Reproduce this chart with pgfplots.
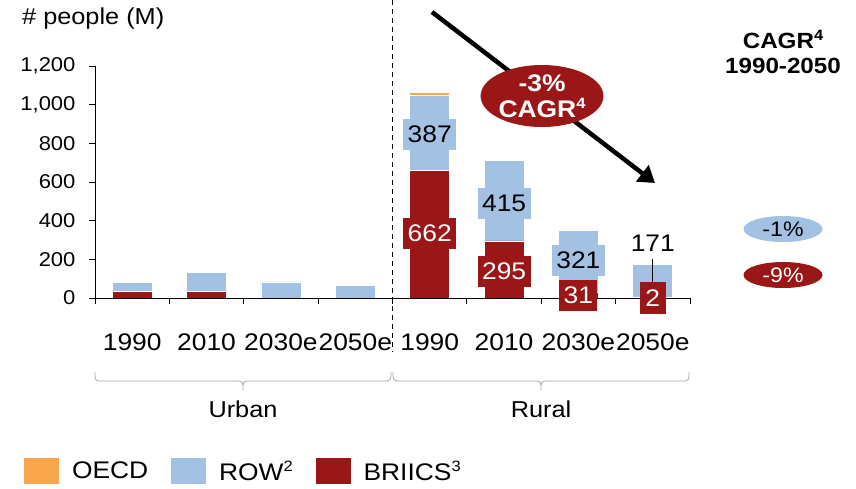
\documentclass[border=0pt]{standalone}
\usepackage{fontspec}
\setmainfont{Liberation Sans}[FakeStretch=1.1]
\usepackage{pgfplots}
\pgfplotsset{compat=1.18}
\usetikzlibrary{arrows.meta, shapes.geometric}
\definecolor{oecd}{HTML}{F8A54B}
\definecolor{row}{HTML}{A3C1E2}
\definecolor{briics}{HTML}{9B1717}
\definecolor{brk}{HTML}{A6A6A6}
\newcommand{\fs}[1]{\fontsize{#1}{#1}\selectfont}
\newcommand{\fn}[1]{\raisebox{0.7ex}{\fontsize{15}{15}\selectfont #1}}

\begin{document}
\begin{tikzpicture}
\path[use as bounding box] (0,0) rectangle (856pt,-488pt);

\begin{axis}[
  at={(95pt,-298pt)}, anchor=south west,
  scale only axis, width=595pt, height=232pt,
  xmin=-0.5, xmax=7.5, ymin=0, ymax=1200,
  ybar stacked, bar width=40pt,
  axis x line=bottom, axis y line=left,
  axis line style={-, line width=1pt},
  axis on top,
  tick align=outside,
  ytick={0,200,...,1200},
  major tick length=6pt,
  minor tick length=6pt,
  tick style={black, line width=0.8pt},
  xtick={0,...,7},
  xticklabels={1990,2010,2030e,2050e,1990,2010,2030e,2050e},
  major x tick style={draw=none},
  minor xtick={-0.5,0.5,...,7.5},
  xticklabel style={font=\fs{24}, yshift=-26pt},
  yticklabel style={font=\fs{20}, xshift=-10pt},
  /pgf/number format/.cd, 1000 sep={,}, assume math mode=true,
  /pgfplots/.cd,
  reverse legend,
  legend columns=3,
  legend style={at={(-0.121,-0.746)}, anchor=west, draw=none, fill=none,
    font=\fs{24}, inner sep=0pt,
    /tikz/every odd column/.append style={column sep=10pt},
    /tikz/every even column/.append style={column sep=20pt}},
  legend image code/.code={\path[#1] (0pt,-13.5pt) rectangle (36pt,13.5pt);},
]
\addplot[fill=briics, draw=white, line width=0.8pt] coordinates {(0,36)(1,33)(2,0)(3,0)(4,662)(5,295)(6,31)(7,2)};
\addlegendentry{BRIICS\fn{3}}
\addplot[fill=row, draw=white, line width=0.8pt] coordinates {(0,46)(1,97)(2,83)(3,63)(4,387)(5,415)(6,321)(7,171)};
\addlegendentry{ROW\fn{2}}
\addplot[fill=oecd, draw=white, line width=0.8pt] coordinates {(0,0)(1,0)(2,0)(3,0)(4,12)(5,0)(6,0)(7,0)};
\addlegendentry{OECD}
\end{axis}

% axis title
\node[anchor=west, font=\fs{23}, inner sep=0pt] at (22pt,-19pt) {\# people (M)};

% urban / rural divider and arrow
\draw[line width=1pt, dash pattern=on 5pt off 4pt] (392pt,0pt) -- (392pt,-352pt);
\draw[line width=4.5pt, -{Triangle[length=16pt,width=20pt]}] (432pt,-12pt) -- (655pt,-183pt);
\node[ellipse, fill=briics, minimum width=121pt, minimum height=62pt, inner sep=0pt,
  text=white, font=\bfseries\fs{24}, align=center] at (542pt,-96pt)
  {-3\%\\[2pt]CAGR\fn{4}};

% value labels
\tikzset{lab/.style={minimum width=53pt, minimum height=31pt, inner sep=0pt, font=\fs{24}}}
\node[lab, fill=row] at (429.7pt,-134pt) {387};
\node[lab, fill=briics, text=white] at (429.7pt,-233pt) {662};
\node[lab, fill=row] at (504.1pt,-203pt) {415};
\node[lab, fill=briics, text=white] at (504.1pt,-271pt) {295};
\node[lab, fill=row] at (578.4pt,-260pt) {321};
\node[lab, minimum width=38pt, fill=briics, text=white] at (578.4pt,-295pt) {31};
\draw[line width=0.8pt] (652.8pt,-259pt) -- (652.8pt,-283pt);
\node[lab, minimum width=26pt, minimum height=32pt, fill=briics, text=white] at (652.8pt,-298pt) {2};
\node[font=\fs{24}] at (652.8pt,-243pt) {171};

% brackets
\draw[brk, line width=0.8pt] (95pt,-372pt) .. controls (95pt,-381pt) .. (103pt,-381pt) -- (235pt,-381pt)
  .. controls (243pt,-381pt) .. (243pt,-390pt) .. controls (243pt,-381pt) .. (251pt,-381pt)
  -- (383pt,-381pt) .. controls (391pt,-381pt) .. (391pt,-372pt);
\draw[brk, line width=0.8pt] (393pt,-372pt) .. controls (393pt,-381pt) .. (401pt,-381pt) -- (533pt,-381pt)
  .. controls (541pt,-381pt) .. (541pt,-390pt) .. controls (541pt,-381pt) .. (549pt,-381pt)
  -- (681pt,-381pt) .. controls (689pt,-381pt) .. (689pt,-372pt);
\node[font=\fs{23}] at (243pt,-409pt) {Urban};
\node[font=\fs{23}] at (541pt,-409pt) {Rural};

% CAGR column
\node[font=\bfseries\fs{22}, align=center] at (783pt,-52pt) {CAGR\fn{4}\\[3pt]1990-2050};
\node[ellipse, fill=row, minimum width=79pt, minimum height=26pt, inner sep=0pt, font=\fs{21}] at (783pt,-229pt) {-1\%};
\node[ellipse, fill=briics, minimum width=79pt, minimum height=26pt, inner sep=0pt, text=white, font=\fs{21}] at (783pt,-275pt) {-9\%};
\end{tikzpicture}
\end{document}
